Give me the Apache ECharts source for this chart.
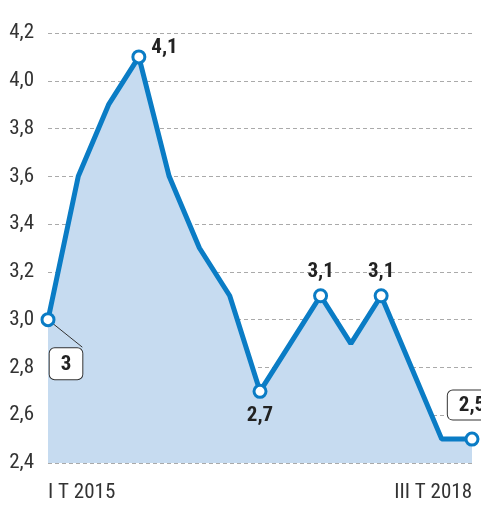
<!DOCTYPE html>
<html><head><meta charset="utf-8">
<script src="https://cdn.jsdelivr.net/npm/echarts@6/dist/echarts.min.js"></script>
<style>html,body{margin:0;padding:0;background:#fff}#c{width:481px;height:505px}</style>
</head><body><div id="c"></div>
<script>
const categories = ["I T 2015","II T 2015","III T 2015","IV T 2015","I T 2016","II T 2016","III T 2016","IV T 2016","I T 2017","II T 2017","III T 2017","IV T 2017","I T 2018","II T 2018","III T 2018"];
const values = [3.0, 3.6, 3.9, 4.1, 3.6, 3.3, 3.1, 2.7, 2.9, 3.1, 2.9, 3.1, 2.8, 2.5, 2.5];
const yTicks = [2.4, 2.6, 2.8, 3.0, 3.2, 3.4, 3.6, 3.8, 4.0, 4.2];
const labelled = {0:'callout-br', 3:'right', 7:'bottom', 9:'top', 11:'top', 14:'callout-tl'};

const FONT = '"Roboto Condensed","DejaVu Sans Condensed",sans-serif';
const BLUE = '#0a7cc5';
const fmt = v => String(v).replace('.', ',');

const data = values.map((v, i) => {
  const pos = labelled[i];
  if (!pos) return { value: v, symbol: 'none' };
  const item = { value: v, symbol: 'circle', symbolSize: 12 };
  const base = { show: true, fontFamily: FONT, fontWeight: 'bold', fontSize: 21, color: '#222',
                 formatter: p => fmt(p.value) };
  if (pos === 'right') item.label = Object.assign(base, { position: 'right', distance: 5, offset: [0, -9] });
  else if (pos === 'top') item.label = Object.assign(base, { position: 'top', distance: 6 });
  else if (pos === 'bottom') item.label = Object.assign(base, { position: 'bottom', distance: 6 });
  else if (pos === 'callout-br') {
    item.label = Object.assign(base, { position: 'bottom', offset: [18, 16],
      backgroundColor: '#fff', borderColor: '#333', borderWidth: 1, borderRadius: 5,
      padding: [6, 11, 4, 11] });
    item.labelLine = { show: true, lineStyle: { color: '#333', width: 1 } };
  }
  else if (pos === 'callout-tl') {
    item.label = Object.assign(base, { position: 'top', offset: [0, -7],
      backgroundColor: '#fff', borderColor: '#333', borderWidth: 1, borderRadius: 5,
      padding: [5, 11, 3, 11] });
    item.labelLine = { show: true, lineStyle: { color: '#333', width: 1 } };
  }
  return item;
});

const chart = echarts.init(document.getElementById('c'), null, { renderer: 'canvas' });
chart.setOption({
  animation: false,
  grid: { left: 48, right: 9, top: 33, bottom: 42, containLabel: false },
  xAxis: {
    type: 'category', data: categories, boundaryGap: false,
    axisLine: { show: false }, axisTick: { show: false }, splitLine: { show: false },
    axisLabel: {
      interval: (i) => i === 0 || i === categories.length - 1,
      margin: 19, fontFamily: FONT, fontSize: 21, color: '#333',
      alignMinLabel: 'left', alignMaxLabel: 'right'
    }
  },
  yAxis: {
    type: 'value', min: yTicks[0], max: yTicks[yTicks.length - 1], interval: 0.2,
    axisLine: { show: false }, axisTick: { show: false },
    splitLine: { show: true, lineStyle: { type: [4, 3], color: '#aaa', width: 1 } },
    axisLabel: { margin: 14, fontFamily: FONT, fontSize: 21, color: '#333',
      formatter: v => v.toFixed(1).replace('.', ',') }
  },
  series: [{
    type: 'line', data: data, clip: false,
    lineStyle: { color: BLUE, width: 5 },
    itemStyle: { color: '#fff', borderColor: BLUE, borderWidth: 3 },
    areaStyle: { color: '#c6dbf0', opacity: 1, origin: 'start' },
    z: 3
  }]
});
</script></body></html>
